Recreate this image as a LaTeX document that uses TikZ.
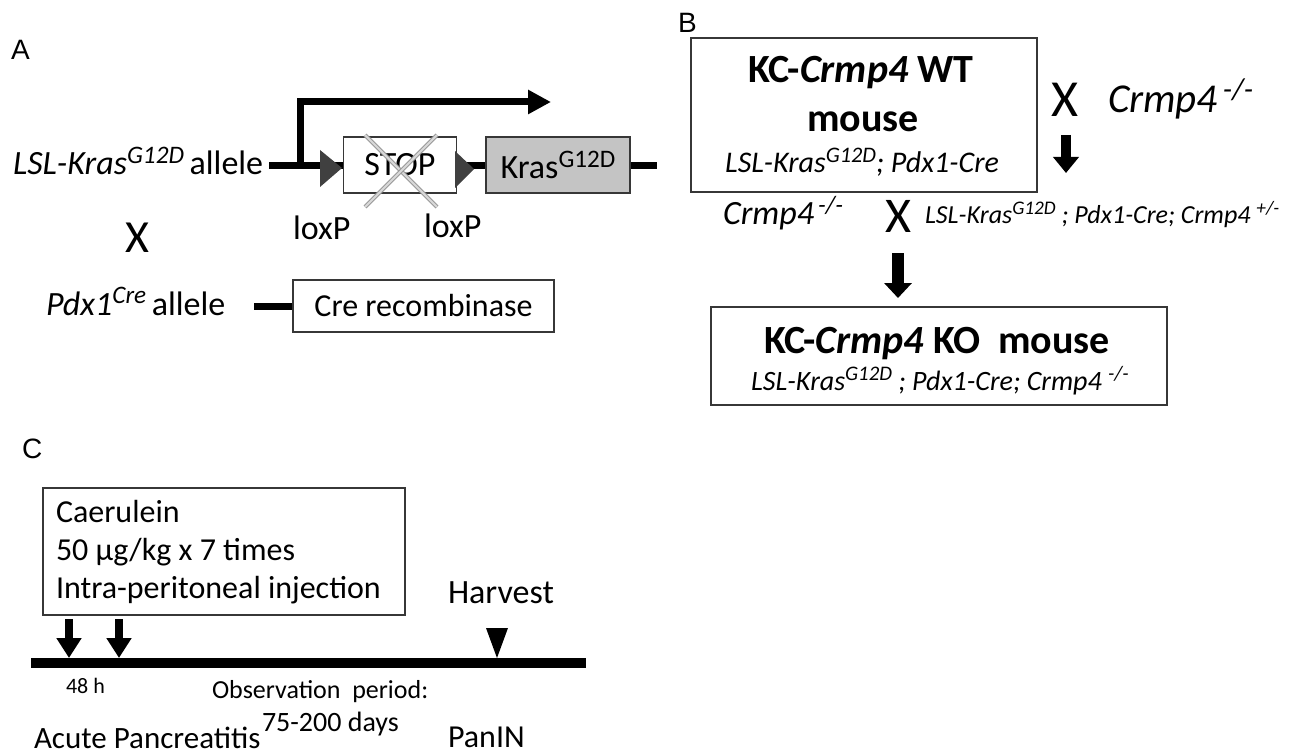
\documentclass[tikz,border=0pt]{standalone}
\usepackage{fontspec}
\setmainfont{Carlito}
\newfontfamily\panelfont{Liberation Sans}
\usetikzlibrary{arrows.meta}
\newcommand\fsz[1]{\fontsize{#1}{#1}\selectfont}
\newcommand\sups[1]{\raisebox{0.34em}{\scalebox{0.74}{#1}}}
\definecolor{loxgray}{RGB}{64,64,64}
\definecolor{krasgray}{RGB}{196,196,196}
\definecolor{edgegray}{RGB}{55,55,55}
\begin{document}
\begin{tikzpicture}[x=1pt, y=-1pt, line join=miter,
  txt/.style={inner sep=0pt, outer sep=0pt, anchor=base west},
  ctxt/.style={inner sep=0pt, outer sep=0pt, anchor=base},
  box/.style={draw=edgegray, line width=1.3pt, inner sep=0pt},
  dna/.style={line width=7pt},
  crossline/.style={draw=gray!80, double=gray!30, double distance=2pt, line width=1.1pt},
  panel/.style={inner sep=0pt, anchor=base west, font=\panelfont\fsz{28}}]
\useasboundingbox (0,0) rectangle (1309,754);

% ---------------- A: alleles ----------------
\node[panel] (labA) at (11,60) {A};
\node[txt, font=\fsz{34}] (lsl) at (13,175) {\textit{LSL-Kras\sups{G12D}}\,allele};
\coordinate (dnaL) at (269,166);
\coordinate (dnaR) at (657,166);
\draw[dna] (dnaL) -- (dnaR);
\coordinate (prom) at (300,166);
\coordinate (promEnd) at (551,102);
\draw[line width=7pt, -{Triangle[length=23pt 0, width=23pt 0]}] (prom) |- (promEnd);

\node[box, fill=white, minimum width=113pt, minimum height=56pt, font=\fsz{34}] (stop) at (400,165) {STOP};
\node[box, fill=krasgray, minimum width=144pt, minimum height=56pt, font=\fsz{34}] (kras) at (558,165) {Kras\sups{G12D}};

% loxP sites
\fill[loxgray] (320,150) -- (342,168) -- (320,187) -- cycle;
\fill[loxgray] (455,151) -- (474,169) -- (455,188) -- cycle;

% excised STOP cassette
\draw[crossline] (365,135) -- (437,207);
\draw[crossline] (437,135) -- (365,207);

\node[txt, font=\fsz{34}] (lox1) at (293,240) {loxP};
\node[txt, font=\fsz{34}] (lox2) at (424,237) {loxP};
\node[ctxt, font=\fsz{46}] (crossA) at (137,252) {X};

\node[txt, font=\fsz{34}] (pdx) at (46,315) {\textit{Pdx1\sups{Cre}}\,allele};
\node[box, minimum width=261pt, minimum height=52pt, font=\fsz{32}] (cre) at (423.5,306) {Cre recombinase};
\coordinate (pdxL) at (254,306);
\draw[dna] (pdxL) -- (cre.west);

% ---------------- B: breeding ----------------
\node[panel] (labB) at (678,33) {B};
\node[box, minimum width=346pt, minimum height=154pt] (wt) at (864,115) {};
\node[ctxt, font=\bfseries\fsz{40}] (wt1) at (861,83) {KC-\textit{Crmp4} WT};
\node[ctxt, font=\bfseries\fsz{40}] (wt2) at (863,132) {mouse};
\node[ctxt, font=\itshape\fsz{30}] (wt3) at (862,173) {LSL-Kras\sups{G12D}; Pdx1-Cre};

\node[ctxt, font=\fsz{52}] (crossB1) at (1065,117) {X};
\node[txt, font=\itshape\fsz{41}] (ko1) at (1108,113) {Crmp4\hspace{5pt}\sups{-/-}};
\coordinate (arB1s) at (1066,135);
\coordinate (arB1e) at (1066,173);
\draw[line width=10pt, -{Triangle[length=16pt 0, width=25pt 0]}] (arB1s) -- (arB1e);

\node[txt, font=\itshape\fsz{34}] (ko2) at (723,225) {Crmp4\hspace{4pt}\sups{-/-}};
\node[ctxt, font=\fsz{50}] (crossB2) at (898,233) {X};
\node[txt, font=\itshape\fsz{26}] (het) at (925,223) {LSL-Kras\sups{G12D} ; Pdx1-Cre; Crmp4 \sups{+/-}};
\coordinate (arB2s) at (898,253);
\coordinate (arB2e) at (898,298);
\draw[line width=12pt, -{Triangle[length=15pt 0, width=27pt 0]}] (arB2s) -- (arB2e);

\node[box, minimum width=456pt, minimum height=98pt] (ko) at (939,356) {};
\node[ctxt, font=\bfseries\fsz{40}] (ko3) at (937,353) {KC-\textit{Crmp4} KO\ \ mouse};
\node[ctxt, font=\itshape\fsz{28}] (ko4) at (940,390) {LSL-Kras\sups{G12D} ; Pdx1-Cre; Crmp4 \sups{-/-}};

% ---------------- C: timeline ----------------
\node[panel] (labC) at (22,458) {C};
\node[box, minimum width=362pt, minimum height=127pt] (cae) at (224,551.5) {};
\node[txt, font=\fsz{32}] (cae1) at (56,522) {Caerulein};
\node[txt, font=\fsz{32}] (cae2) at (56,560) {50 µg/kg x 7 times};
\node[txt, font=\fsz{32}] (cae3) at (56,598) {Intra-peritoneal injection};
\node[txt, font=\fsz{34}] (harv) at (448,603) {Harvest};

\coordinate (tl0) at (31,663);
\coordinate (tl1) at (586,663);
\draw[line width=10pt] (tl0) -- (tl1);
\coordinate (inj1s) at (69,619);
\coordinate (inj1e) at (69,658);
\coordinate (inj2s) at (119,619);
\coordinate (inj2e) at (119,658);
\draw[line width=8pt, -{Triangle[length=20pt 0, width=24pt 0]}] (inj1s) -- (inj1e);
\draw[line width=8pt, -{Triangle[length=20pt 0, width=24pt 0]}] (inj2s) -- (inj2e);
\fill (486,628) -- (508,628) -- (497,658) -- cycle;

\node[txt, font=\fsz{22}] (h48) at (66,693) {48 h};
\node[txt, font=\fsz{26}] (obs1) at (212,698) {Observation\ \ period:};
\node[txt, font=\fsz{28}] (obs2) at (262,731) {75-200 days};
\node[txt, font=\fsz{31}] (acute) at (34,748) {Acute Pancreatitis};
\node[txt, font=\fsz{32}] (panin) at (448,747) {PanIN};
\end{tikzpicture}
\end{document}
